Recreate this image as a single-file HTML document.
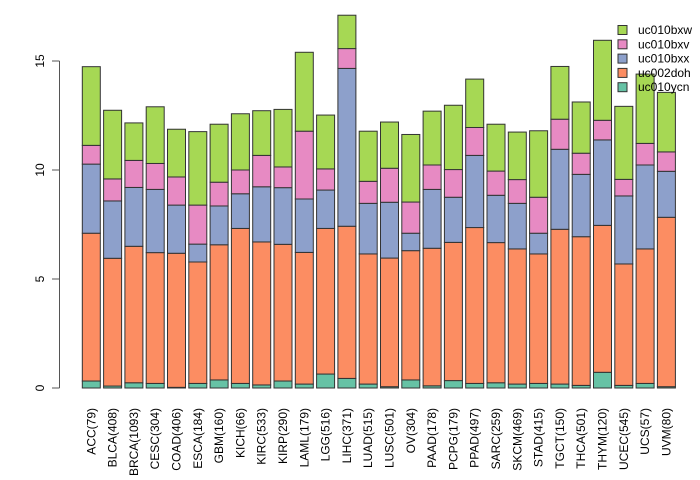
<!DOCTYPE html>
<html><head><meta charset="utf-8"><style>
body{margin:0;background:#fff;}
svg{display:block;font-family:"Liberation Sans",Arial,sans-serif;}
</style></head><body>
<svg id="chart" width="700" height="480" viewBox="0 0 700 480"></svg>
<script>
const categories=["ACC(79)","BLCA(408)","BRCA(1093)","CESC(304)","COAD(406)","ESCA(184)","GBM(160)","KICH(66)","KIRC(533)","KIRP(290)","LAML(179)","LGG(516)","LIHC(371)","LUAD(515)","LUSC(501)","OV(304)","PAAD(178)","PCPG(179)","PPAD(497)","SARC(259)","SKCM(469)","STAD(415)","TGCT(150)","THCA(501)","THYM(120)","UCEC(545)","UCS(57)","UVM(80)"];
const seriesNames=["uc010ycn","uc002doh","uc010bxx","uc010bxv","uc010bxw"];
const uc010ycn=[0.32,0.09,0.24,0.21,0.03,0.21,0.37,0.21,0.14,0.32,0.18,0.64,0.44,0.18,0.06,0.37,0.10,0.34,0.21,0.24,0.18,0.21,0.18,0.12,0.72,0.12,0.21,0.06];
const uc002doh=[6.78,5.86,6.26,6.00,6.15,5.57,6.20,7.11,6.56,6.27,6.04,6.68,6.98,5.97,5.90,5.93,6.31,6.34,7.15,6.43,6.20,5.94,7.10,6.82,6.74,5.57,6.17,7.77];
const uc010bxx=[3.17,2.63,2.70,2.90,2.21,0.82,1.78,1.59,2.53,2.60,2.45,1.76,7.24,2.32,2.56,0.80,2.70,2.07,3.31,2.17,2.09,0.95,3.67,2.86,3.92,3.12,3.85,2.11];
const uc010bxv=[0.86,1.01,1.24,1.19,1.29,1.79,1.09,1.09,1.44,0.95,3.11,0.97,0.91,1.01,1.56,1.43,1.12,1.27,1.28,1.11,1.09,1.65,1.38,0.97,0.90,0.76,0.99,0.89];
const uc010bxw=[3.61,3.15,1.72,2.60,2.19,3.37,2.66,2.58,2.05,2.64,3.62,2.47,1.53,2.30,2.12,3.10,2.47,2.95,2.22,2.15,2.18,3.05,2.42,2.35,3.67,3.35,3.18,2.73];
const yTicks=[0,5,10,15];
const series=[uc010ycn,uc002doh,uc010bxx,uc010bxv,uc010bxw];
const colors=["#66C2A5","#FC8D62","#8DA0CB","#E78AC3","#A6D854"];
const NS="http://www.w3.org/2000/svg";
const svg=document.getElementById('chart');
function y(v){return 388-21.8*v;}
function xc(i){return 91.3+i*21.3;}
function mk(t,a){const e=document.createElementNS(NS,t);for(const k in a)e.setAttribute(k,a[k]);svg.appendChild(e);return e;}
// bars
categories.forEach((c,i)=>{
  let cum=0;
  series.forEach((s,j)=>{
    const v=s[i];
    const r=mk('rect',{x:xc(i)-9,y:y(cum+v),width:18,height:Math.max(0,y(cum)-y(cum+v)),fill:colors[j],stroke:'#333','stroke-width':1});
    
    
    cum+=v;
  });
  const t=mk('text',{x:0,y:0,'font-size':12,'text-anchor':'end',fill:'#000',transform:`translate(${xc(i)+4},408) rotate(-90)`});
  t.textContent=c;
  
  
});
// y axis
const ax=mk('line',{x1:59.5,x2:59.5,y1:y(0),y2:y(15),stroke:'#555'});


yTicks.forEach(v=>{
  const tk=mk('line',{x1:52,x2:59.5,y1:y(v),y2:y(v),stroke:'#555'});
  
  
  const t=mk('text',{x:0,y:0,'font-size':12,'text-anchor':'middle',fill:'#000',transform:`translate(44,${y(v)}) rotate(-90)`});
  t.textContent=v;
  
  
});
// legend
for(let k=0;k<5;k++){
  const j=4-k;
  const yy=30+k*14.3;
  const r=mk('rect',{x:618,y:yy-4.5,width:9,height:9,fill:colors[j],stroke:'#333'});
  
  
  const t=mk('text',{x:638,y:yy+4,'font-size':12,fill:'#000'});
  t.textContent=seriesNames[j];
  
  
}
</script>
</body></html>
